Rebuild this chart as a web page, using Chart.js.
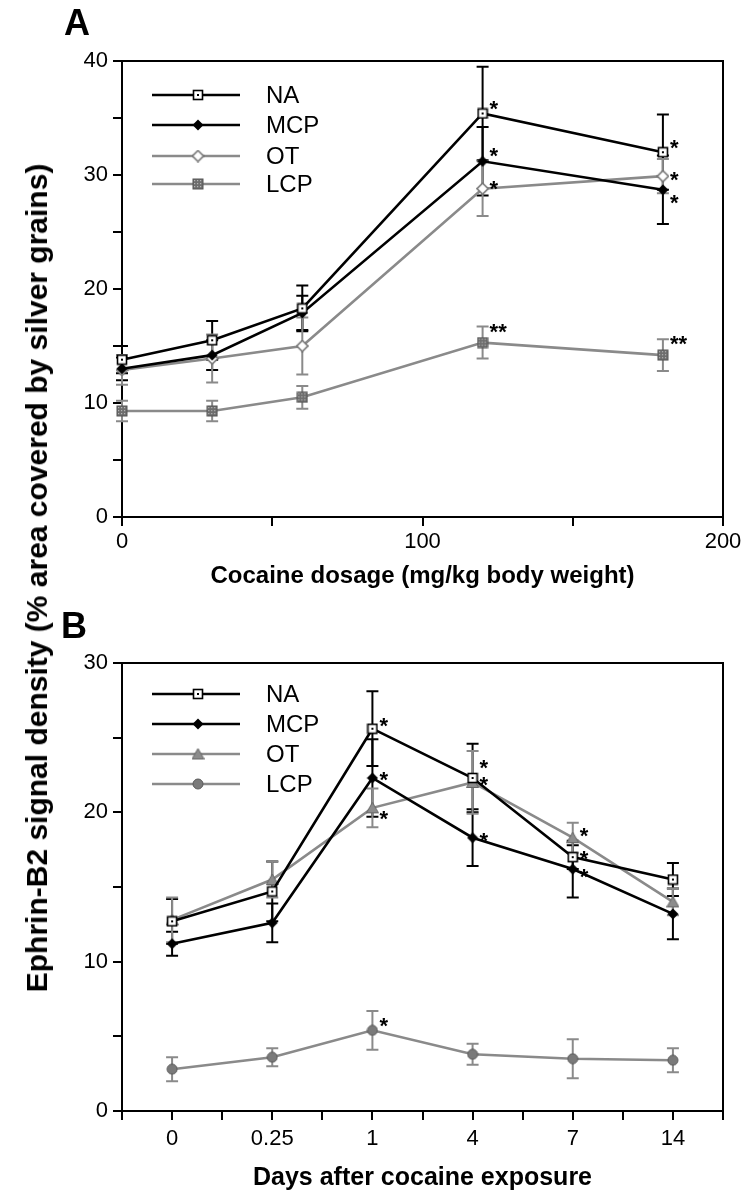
<!DOCTYPE html>
<html>
<head>
<meta charset="utf-8">
<script src="https://cdn.jsdelivr.net/npm/chart.js@4.4.0/dist/chart.umd.min.js"></script>
<style>
  html, body { margin: 0; padding: 0; background: #fff; }
  #page { position: relative; width: 748px; height: 1199px; overflow: hidden; font-family: "Liberation Sans", Arial, sans-serif; color: #000; }
  canvas { position: absolute; left: 0; }
  #chartA { top: 0; }
  #chartB { top: 600px; }
  .letter { position: absolute; font-weight: bold; font-size: 36px; line-height: 1; }
  #yTitle { position: absolute; left: 37px; top: 578px; transform: translate(-50%, -50%) rotate(-90deg); white-space: nowrap; font-weight: bold; font-size: 30px; }
</style>
</head>
<body>
<div id="page">
  <canvas id="chartA" width="748" height="600"></canvas>
  <canvas id="chartB" width="748" height="599"></canvas>
  <div class="letter" style="left:64px; top:5px;">A</div>
  <div class="letter" style="left:61px; top:608px;">B</div>
  <div id="yTitle">Ephrin-B2 signal density (% area covered by silver grains)</div>
</div>
<script>
// panel A: cocaine dosage
const dosage = [0, 30, 60, 120, 180];
const naA  = [13.8, 15.5, 18.3, 35.4, 32.0];
const mcpA = [13.0, 14.2, 17.9, 31.2, 28.7];
const otA  = [12.9, 13.9, 15.0, 28.8, 29.9];
const lcpA = [9.3, 9.3, 10.5, 15.3, 14.2];
const naAErr  = [1.2, 1.7, 2.0, 4.1, 3.3];
const mcpAErr = [1.0, 1.3, 1.5, 3.0, 3.0];
const otAErr  = [1.3, 2.1, 2.5, 2.4, 1.5];
const lcpAErr = [0.9, 0.9, 1.0, 1.4, 1.4];
const naAStars  = ['', '', '', '*', '*'];
const mcpAStars = ['', '', '', '*', '*'];
const otAStars  = ['', '', '', '*', '*'];
const lcpAStars = ['', '', '', '**', '**'];

// panel B: days after exposure
const days = ['0', '0.25', '1', '4', '7', '14'];
const naB  = [12.7, 14.7, 25.6, 22.3, 17.0, 15.5];
const mcpB = [11.2, 12.6, 22.3, 18.3, 16.2, 13.2];
const otB  = [12.8, 15.5, 20.3, 22.0, 18.3, 14.0];
const lcpB = [2.8, 3.6, 5.4, 3.8, 3.5, 3.4];
const naBErr  = [1.5, 2.0, 2.5, 2.3, 0.8, 1.1];
const mcpBErr = [0.8, 1.3, 2.6, 1.9, 1.9, 1.7];
const otBErr  = [1.5, 1.2, 1.3, 2.1, 1.0, 0.9];
const lcpBErr = [0.8, 0.6, 1.3, 0.7, 1.3, 0.8];
const naBStars  = ['', '', '*', '*', '*', ''];
const mcpBStars = ['', '', '*', '*', '*', ''];
const otBStars  = ['', '', '*', '*', '*', ''];
const lcpBStars = ['', '', '*', '', '', ''];

const yTicksA = [0, 10, 20, 30, 40];
const yTicksB = [0, 10, 20, 30];

const BLACK = '#000';
const GREY = '#8a8a8a';
const FONT = '"Liberation Sans", Arial, sans-serif';

// little marker images
function marker(size, draw) {
    const c = document.createElement('canvas');
    c.width = size; c.height = size;
    draw(c.getContext('2d'), size / 2);
    return c;
}
const mkSquareDot = marker(12, (g, m) => {
    g.fillStyle = '#fff'; g.fillRect(1.5, 1.5, 9, 9);
    g.strokeStyle = '#000'; g.lineWidth = 1.6; g.strokeRect(1.5, 1.5, 9, 9);
    g.fillStyle = '#000'; g.fillRect(m - 1, m - 1, 2, 2);
});
const mkDiamond = marker(12, (g, m) => {
    g.beginPath(); g.moveTo(m, 0.5); g.lineTo(11.5, m); g.lineTo(m, 11.5); g.lineTo(0.5, m); g.closePath();
    g.fillStyle = '#000'; g.fill();
});
const mkOpenDiamond = marker(13, (g, m) => {
    g.beginPath(); g.moveTo(m, 1); g.lineTo(12, m); g.lineTo(m, 12); g.lineTo(1, m); g.closePath();
    g.fillStyle = '#fff'; g.fill(); g.strokeStyle = '#777'; g.lineWidth = 1.6; g.stroke();
});
const mkHatchSquare = marker(12, (g, m) => {
    g.fillStyle = '#6e6e6e'; g.fillRect(1, 1, 10, 10);
    g.fillStyle = '#b5b5b5';
    for (let i = 2; i < 11; i += 3) for (let j = 2; j < 11; j += 3) g.fillRect(i, j, 1.2, 1.2);
    g.strokeStyle = '#555'; g.lineWidth = 1; g.strokeRect(1, 1, 10, 10);
});
const mkTriangle = marker(13, (g, m) => {
    g.beginPath(); g.moveTo(m, 1); g.lineTo(12.5, 11.5); g.lineTo(0.5, 11.5); g.closePath();
    g.fillStyle = '#8c8c8c'; g.fill(); g.strokeStyle = '#666'; g.lineWidth = 1; g.stroke();
});
const mkCircle = marker(12, (g, m) => {
    g.beginPath(); g.arc(m, m, 5, 0, Math.PI * 2);
    g.fillStyle = '#7a7a7a'; g.fill(); g.strokeStyle = '#5a5a5a'; g.lineWidth = 1; g.stroke();
});

function pts(xs, ys) {
    return ys.map((y, i) => ({ x: xs[i], y: y }));
}
const dayIdx = days.map((d, i) => i);

function series(label, xs, ys, errs, stars, color, style, starDy) {
    return {
        label: label,
        data: pts(xs, ys),
        errors: errs,
        stars: stars,
        starDy: starDy,
        borderColor: color,
        backgroundColor: color,
        borderWidth: 2.6,
        pointStyle: style,
        pointRadius: 5,
        pointHoverRadius: 5,
        tension: 0,
        clip: false
    };
}

const frameBox = {
    id: 'frameBox',
    beforeDatasetsDraw(chart) {
        const a = chart.chartArea, ctx = chart.ctx;
        ctx.save();
        ctx.strokeStyle = BLACK; ctx.lineWidth = 2;
        ctx.strokeRect(a.left, a.top, a.right - a.left, a.bottom - a.top);
        ctx.restore();
    }
};

const errorBars = {
    id: 'errorBars',
    beforeDatasetsDraw(chart) {
        const ctx = chart.ctx, xs = chart.scales.x, ys = chart.scales.y;
        chart.data.datasets.forEach(ds => {
            ctx.save();
            ctx.strokeStyle = ds.borderColor; ctx.lineWidth = 2;
            ds.data.forEach((p, i) => {
                const e = ds.errors[i];
                if (!e) return;
                const x = xs.getPixelForValue(p.x);
                const y1 = ys.getPixelForValue(p.y + e), y2 = ys.getPixelForValue(p.y - e);
                ctx.beginPath();
                ctx.moveTo(x, y1); ctx.lineTo(x, y2);
                ctx.moveTo(x - 6, y1); ctx.lineTo(x + 6, y1);
                ctx.moveTo(x - 6, y2); ctx.lineTo(x + 6, y2);
                ctx.stroke();
            });
            ctx.restore();
        });
    }
};

const starMarks = {
    id: 'starMarks',
    afterDatasetsDraw(chart) {
        const ctx = chart.ctx, xs = chart.scales.x, ys = chart.scales.y;
        ctx.save();
        ctx.fillStyle = BLACK;
        ctx.font = 'bold 22px ' + FONT;
        ctx.textAlign = 'left';
        ctx.textBaseline = 'alphabetic';
        chart.data.datasets.forEach(ds => {
            ds.data.forEach((p, i) => {
                const s = ds.stars[i];
                if (!s) return;
                const x = xs.getPixelForValue(p.x) + 7;
                const y = ys.getPixelForValue(p.y) + (ds.starDy[i] || 0) + 13;
                ctx.fillText(s, x, y);
            });
        });
        ctx.restore();
    }
};

const boxLegend = {
    id: 'boxLegend',
    afterDraw(chart, args, opts) {
        const ctx = chart.ctx;
        ctx.save();
        chart.data.datasets.forEach((ds, i) => {
            const y = opts.rows[i];
            ctx.strokeStyle = ds.borderColor; ctx.lineWidth = 2.6;
            ctx.beginPath(); ctx.moveTo(opts.x1, y); ctx.lineTo(opts.x2, y); ctx.stroke();
            const m = ds.pointStyle;
            ctx.drawImage(m, opts.mx - m.width / 2, y - m.height / 2);
            ctx.fillStyle = BLACK;
            ctx.font = '24px ' + FONT;
            ctx.textBaseline = 'middle';
            ctx.fillText(ds.label, opts.tx, y + 1);
        });
        ctx.restore();
    }
};

function axisBase() {
    return {
        grid: { display: true, drawOnChartArea: false, drawTicks: true, tickLength: 9, color: BLACK, lineWidth: 2 },
        border: { display: true, color: BLACK, width: 2 },
        ticks: { color: BLACK, font: { size: 22, family: FONT }, autoSkip: false, maxRotation: 0 }
    };
}

function makeOptions(x, y, legendRows, chartH) {
    x.afterFit = s => { s.height = chartH.xh; };
    y.afterFit = s => { s.width = 122; };
    return {
        responsive: false,
        animation: false,
        events: [],
        layout: { padding: { top: chartH.top, right: 25, left: 0, bottom: 0 } },
        scales: { x: x, y: y },
        plugins: {
            legend: { display: false },
            tooltip: { enabled: false },
            boxLegend: { x1: 152, x2: 240, mx: 198, tx: 266, rows: legendRows }
        }
    };
}

// ---- panel A
const xA = axisBase();
xA.type = 'linear'; xA.min = 0; xA.max = 200;
xA.ticks.stepSize = 50;
xA.ticks.padding = 3;
xA.ticks.callback = v => (v % 100 === 0 ? String(v) : '');
xA.title = { display: true, text: 'Cocaine dosage (mg/kg body weight)', color: BLACK, font: { size: 24, weight: 'bold', family: FONT }, padding: { top: 0, bottom: 9 } };

const yA = axisBase();
yA.min = 0; yA.max = 40;
yA.ticks.stepSize = 5;
yA.ticks.padding = 5;
yA.ticks.callback = v => (yTicksA.includes(v) ? String(v) : '');

new Chart(document.getElementById('chartA'), {
    type: 'line',
    data: {
        datasets: [
            series('NA', dosage, naA, naAErr, naAStars, BLACK, mkSquareDot, [0, 0, 0, -10, -10]),
            series('MCP', dosage, mcpA, mcpAErr, mcpAStars, BLACK, mkDiamond, [0, 0, 0, -11, 7]),
            series('OT', dosage, otA, otAErr, otAStars, GREY, mkOpenDiamond, [0, 0, 0, -6, -2]),
            series('LCP', dosage, lcpA, lcpAErr, lcpAStars, GREY, mkHatchSquare, [0, 0, 0, -17, -17])
        ]
    },
    options: makeOptions(xA, yA, [95, 125, 156, 184], { top: 61, xh: 83 }),
    plugins: [frameBox, errorBars, starMarks, boxLegend]
});

// ---- panel B
const xB = axisBase();
xB.type = 'linear'; xB.min = -0.5; xB.max = days.length - 0.5;
xB.ticks.stepSize = 0.5;
xB.ticks.padding = 6;
xB.ticks.callback = v => (Number.isInteger(v) ? days[v] : '');
xB.title = { display: true, text: 'Days after cocaine exposure', color: BLACK, font: { size: 25, weight: 'bold', family: FONT }, padding: { top: 0, bottom: 6 } };

const yB = axisBase();
yB.min = 0; yB.max = 30;
yB.ticks.stepSize = 5;
yB.ticks.padding = 5;
yB.ticks.callback = v => (yTicksB.includes(v) ? String(v) : '');

new Chart(document.getElementById('chartB'), {
    type: 'line',
    data: {
        datasets: [
            series('NA', dayIdx, naB, naBErr, naBStars, BLACK, mkSquareDot, [0, 0, -9, -16, -4, 0]),
            series('MCP', dayIdx, mcpB, mcpBErr, mcpBStars, BLACK, mkDiamond, [0, 0, -4, -3, 2, 0]),
            series('OT', dayIdx, otB, otBErr, otBStars, GREY, mkTriangle, [0, 0, 5, -3, -8, 0]),
            series('LCP', dayIdx, lcpB, lcpBErr, lcpBStars, GREY, mkCircle, [0, 0, -10, 0, 0, 0])
        ]
    },
    options: makeOptions(xB, yB, [94, 124, 154, 184], { top: 63, xh: 88 }),
    plugins: [frameBox, errorBars, starMarks, boxLegend]
});
</script>
</body>
</html>
